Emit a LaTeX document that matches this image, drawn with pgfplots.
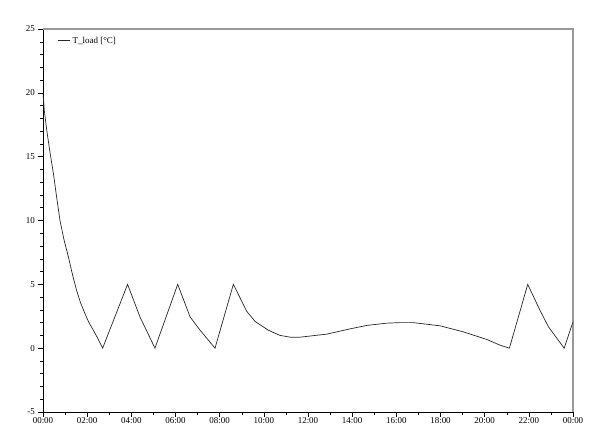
\documentclass[border=0pt]{standalone}
\usepackage{pgfplots}
\pgfplotsset{compat=1.18}
\usepackage{fontspec}
\setmainfont{Liberation Serif}
\begin{document}
\fontsize{9}{10}\selectfont
\begin{tikzpicture}
\path[use as bounding box] (-43bp,-29bp) rectangle (557bp,412bp);
\begin{axis}[
  at={(0,0)}, anchor=south west,
  scale only axis, width=530bp, height=383bp,
  xmin=0, xmax=24, ymin=-5, ymax=25,
  axis x line*=bottom, axis y line*=left,
  axis line style={black, line width=0.6bp},
  xtick={0,2,...,24},
  xticklabels={00:00,02:00,04:00,06:00,08:00,10:00,12:00,14:00,16:00,18:00,20:00,22:00,00:00},
  minor xtick={1,3,...,23},
  ytick={-5,0,...,25},
  minor ytick={-4,-3,-2,-1,1,2,3,4,6,7,8,9,11,12,13,14,16,17,18,19,21,22,23,24},
  tick align=outside,
  major tick length=5bp, minor tick length=3bp,
  tick style={black, line width=0.5bp},
  /pgf/number format/assume math mode=true,
  ticklabel style={font=\fontsize{9}{10}\selectfont, text=black},
  xticklabel style={yshift=2.5bp},
  clip=false,
  legend style={draw=none, fill=none, at={(axis description cs:0.028,0.985)}, anchor=north west, inner sep=0pt, font=\fontsize{9}{10}\selectfont, text=black},
  legend cell align=left,
  legend image code/.code={\draw[#1] (0bp,0bp) -- (12bp,0bp);},
]
\draw[gray!80, line width=1.4bp] (rel axis cs:0,1) -- (rel axis cs:1,1) -- (rel axis cs:1,0);
\addplot[black!85, line width=0.7bp] coordinates {
(0,20)
(0.06,18.6)
(0.17,17.07)
(0.32,15.3)
(0.47,13.7)
(0.62,11.8)
(0.77,10.0)
(0.95,8.5)
(1.15,7.15)
(1.33,5.8)
(1.52,4.54)
(1.7,3.55)
(1.9,2.71)
(2.08,2.0)
(2.28,1.41)
(2.5,0.7)
(2.7,0)
(3.83,5)
(4.39,2.45)
(5.07,0)
(6.1,5)
(6.66,2.45)
(7.11,1.41)
(7.79,0)
(8.62,5)
(9.22,2.9)
(9.6,2.1)
(10.2,1.41)
(10.73,1.0)
(11.2,0.86)
(11.64,0.86)
(12.85,1.1)
(13.9,1.51)
(14.66,1.78)
(15.57,1.96)
(16.17,2.0)
(16.77,2.0)
(17.98,1.75)
(19.03,1.28)
(20.1,0.68)
(20.7,0.23)
(21.12,0)
(21.95,5)
(22.5,2.98)
(22.89,1.67)
(23.6,0)
(24,2.06)
};
\addlegendentry{T\_load [°C]}
\end{axis}
\end{tikzpicture}
\end{document}
